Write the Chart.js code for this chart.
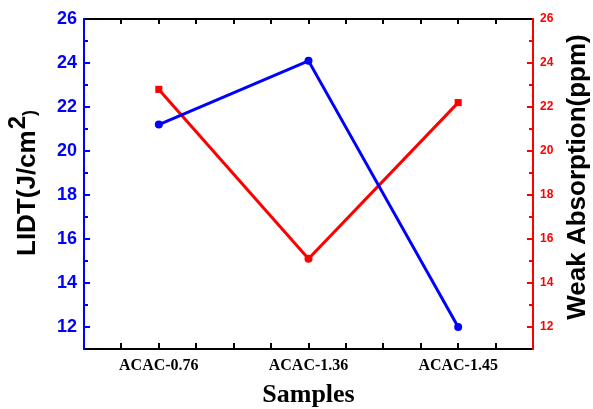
<!DOCTYPE html>
<html>
<head>
<meta charset="utf-8">
<script src="https://cdn.jsdelivr.net/npm/chart.js@4"></script>
<style>
    html, body { margin: 0; padding: 0; background: #ffffff; }
    #wrap { width: 593px; height: 409px; }
</style>
</head>
<body>
<div id="wrap"><canvas id="chart" width="593" height="409"></canvas></div>
<script>
const categories = ["ACAC-0.76", "ACAC-1.36", "ACAC-1.45"];
const lidtValues = [21.2, 24.1, 12.0];
const absorptionValues = [22.8, 15.1, 22.2];
const yTickValues = [12, 14, 16, 18, 20, 22, 24, 26];

const blue = "#0000ff";
const red = "#ff0000";

function toPoints(values) {
    return values.map(function (v, i) {
        return { x: i + 1, y: v };
    });
}

// axis lines, inward ticks and the axis titles
const framePlugin = {
    id: "frame",
    afterDraw: function (chart) {
        const ctx = chart.ctx;
        const a = chart.chartArea;
        const x = chart.scales.x;
        const y = chart.scales.y;

        ctx.save();
        ctx.lineWidth = 2;
        ctx.lineCap = "square";

        // minor ticks on x, every quarter category
        ctx.strokeStyle = "#000000";
        ctx.beginPath();
        for (let v = 0.75; v < 3.5; v += 0.25) {
            const px = Math.round(x.getPixelForValue(v));
            ctx.moveTo(px, a.bottom);
            ctx.lineTo(px, a.bottom - 5);
            ctx.moveTo(px, a.top);
            ctx.lineTo(px, a.top + 4);
        }
        ctx.stroke();

        // y ticks, major on even, minor on odd
        for (let v = 12; v <= 26; v++) {
            const py = Math.round(y.getPixelForValue(v));
            const len = v % 2 === 0 ? 5 : 3;
            ctx.strokeStyle = blue;
            ctx.beginPath();
            ctx.moveTo(a.left, py);
            ctx.lineTo(a.left + len, py);
            ctx.stroke();
            ctx.strokeStyle = red;
            ctx.beginPath();
            ctx.moveTo(a.right, py);
            ctx.lineTo(a.right - len, py);
            ctx.stroke();
        }

        ctx.strokeStyle = "#000000";
        ctx.beginPath();
        ctx.moveTo(a.left, a.top);
        ctx.lineTo(a.right, a.top);
        ctx.moveTo(a.left, a.bottom);
        ctx.lineTo(a.right, a.bottom);
        ctx.stroke();

        ctx.strokeStyle = blue;
        ctx.beginPath();
        ctx.moveTo(a.left, a.top);
        ctx.lineTo(a.left, a.bottom);
        ctx.stroke();

        ctx.strokeStyle = red;
        ctx.beginPath();
        ctx.moveTo(a.right, a.top);
        ctx.lineTo(a.right, a.bottom);
        ctx.stroke();

        // x title
        ctx.fillStyle = "#000000";
        ctx.textAlign = "center";
        ctx.textBaseline = "middle";
        ctx.font = "bold 26px 'Liberation Serif', serif";
        ctx.fillText("Samples", (a.left + a.right) / 2, 395);

        // right title
        ctx.save();
        ctx.translate(578, 177);
        ctx.rotate(-Math.PI / 2);
        ctx.font = "bold 26px 'Liberation Sans', Arial, sans-serif";
        ctx.fillText("Weak Absorption(ppm)", 0, 0);
        ctx.restore();

        // left title with superscript
        ctx.save();
        ctx.translate(35, 256);
        ctx.rotate(-Math.PI / 2);
        ctx.textAlign = "left";
        ctx.textBaseline = "alphabetic";
        ctx.font = "bold 26px 'Liberation Sans', Arial, sans-serif";
        const main = "LIDT(J/cm";
        ctx.fillText(main, 0, 0);
        let w = ctx.measureText(main).width;
        ctx.font = "bold 24px 'Liberation Sans', Arial, sans-serif";
        ctx.fillText("2", w + 1, -10);
        w += ctx.measureText("2").width + 1;
        ctx.font = "bold 18px 'Liberation Sans', Arial, sans-serif";
        ctx.fillText(")", w, 0);
        ctx.restore();

        ctx.restore();
    }
};

new Chart(document.getElementById("chart"), {
    type: "line",
    plugins: [framePlugin],
    data: {
        datasets: [
            {
                label: "LIDT",
                data: toPoints(lidtValues),
                yAxisID: "y",
                borderColor: blue,
                backgroundColor: blue,
                borderWidth: 3,
                pointStyle: "circle",
                pointRadius: 4,
                pointBorderWidth: 0,
                tension: 0
            },
            {
                label: "Weak Absorption",
                data: toPoints(absorptionValues),
                yAxisID: "y2",
                borderColor: red,
                backgroundColor: red,
                borderWidth: 3,
                pointStyle: ["rect", "circle", "rect"],
                pointRadius: [5, 4, 5],
                pointBorderWidth: 0,
                tension: 0
            }
        ]
    },
    options: {
        responsive: false,
        animation: false,
        layout: {
            padding: { top: 19, left: 0, right: 0, bottom: 0 }
        },
        plugins: {
            legend: { display: false },
            tooltip: { enabled: false }
        },
        scales: {
            x: {
                type: "linear",
                min: 0.5,
                max: 3.5,
                afterFit: function (scale) { scale.height = 60; },
                afterBuildTicks: function (scale) {
                    scale.ticks = categories.map(function (c, i) { return { value: i + 1 }; });
                },
                grid: { display: false, drawTicks: false },
                border: { display: false },
                ticks: {
                    autoSkip: false,
                    maxRotation: 0,
                    padding: 7,
                    color: "#000000",
                    font: { family: "'Liberation Serif', serif", size: 16, weight: "bold" },
                    callback: function (value) { return categories[value - 1]; }
                }
            },
            y: {
                position: "left",
                min: 11,
                max: 26,
                afterFit: function (scale) { scale.width = 84; },
                afterBuildTicks: function (scale) {
                    scale.ticks = yTickValues.map(function (v) { return { value: v }; });
                },
                grid: { display: false, drawTicks: false },
                border: { display: false },
                ticks: {
                    padding: 7,
                    color: blue,
                    font: { family: "'Liberation Sans', Arial, sans-serif", size: 18, weight: "bold" }
                }
            },
            y2: {
                position: "right",
                min: 11,
                max: 26,
                afterFit: function (scale) { scale.width = 60; },
                afterBuildTicks: function (scale) {
                    scale.ticks = yTickValues.map(function (v) { return { value: v }; });
                },
                grid: { display: false, drawTicks: false },
                border: { display: false },
                ticks: {
                    padding: 7,
                    color: red,
                    font: { family: "'Liberation Sans', Arial, sans-serif", size: 12, weight: "bold" }
                }
            }
        }
    }
});
</script>
</body>
</html>
